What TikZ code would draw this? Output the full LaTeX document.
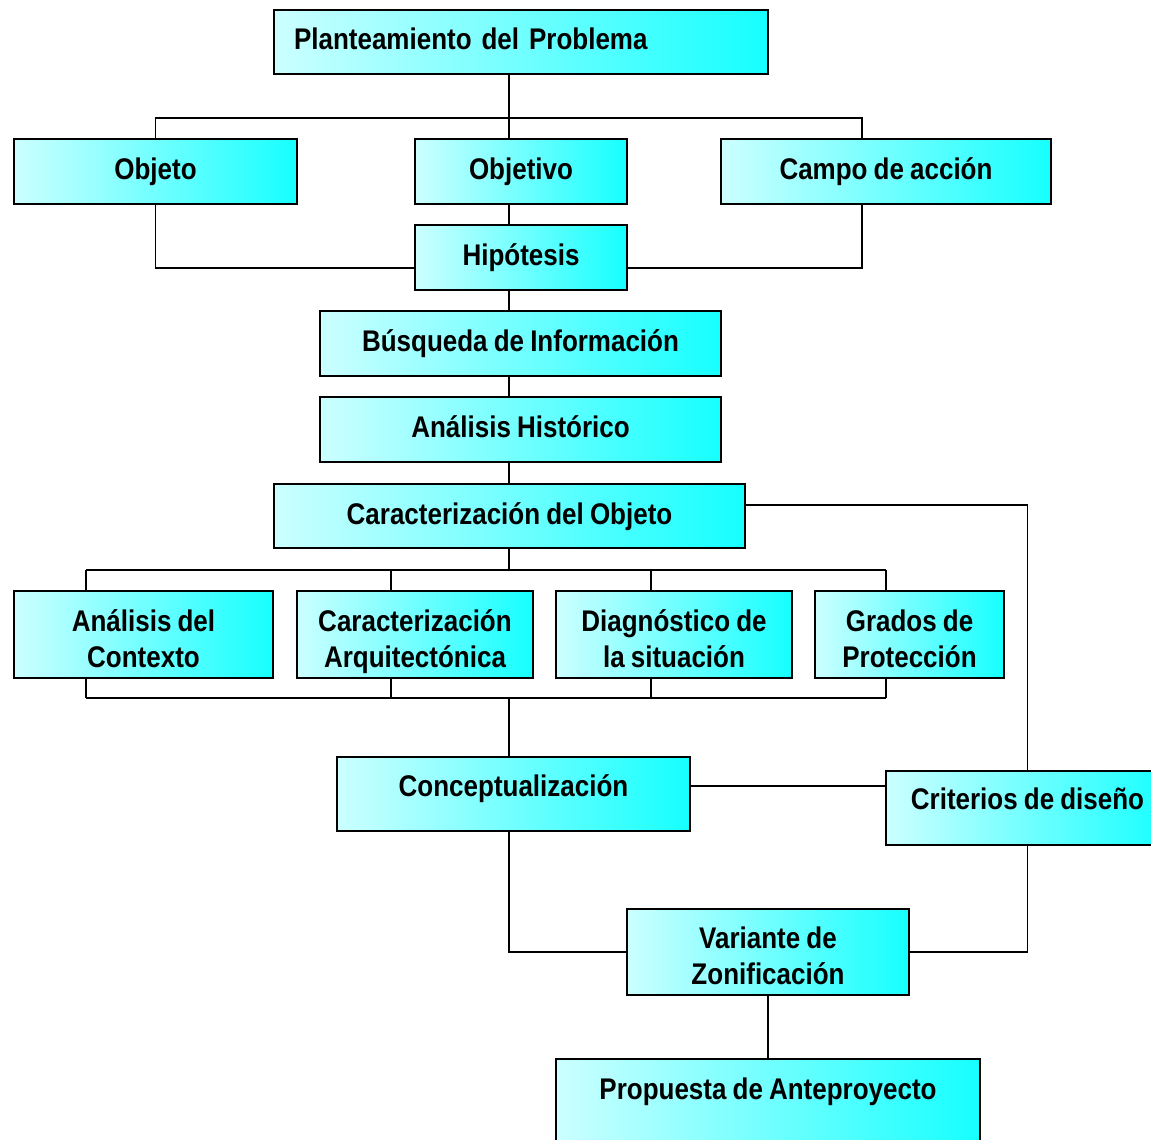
\documentclass[tikz,border=0pt]{standalone}
\usepackage{fontspec}
\setmainfont{Liberation Sans}[FakeStretch=0.87, WordSpace=0.85]
\definecolor{cyanlight}{RGB}{204,255,255}
\definecolor{cyandeep}{RGB}{22,255,255}

\begin{document}
\begin{tikzpicture}[x=0.02cm,y=-0.02cm,
  box/.style={draw=black, line width=1.1pt, left color=cyanlight, right color=cyandeep,
    inner sep=0pt, align=center, font=\bfseries\fontsize{17}{20.5}\selectfont},
  oneline/.style={text height=12.5pt, text depth=3.4pt},
  twoline/.style={text height=37pt, text depth=0pt},
  link/.style={draw=black, line width=1.1pt}]

  % Frame
  \useasboundingbox (0,0) rectangle (1151,1139);
  \clip (0,0) rectangle (1151,1139);

%%%%%%%%%%%%%%%%%%%%%%%%%%%%%%%%%%%%%%%%%%
  % Top of the chart
  \node[box, oneline, minimum width=9.88cm, minimum height=1.28cm, text width=9.08cm, align=left]
    (plan) at (521,42) {Planteamiento del Problema};
  \node[box, oneline, minimum width=5.66cm, minimum height=1.3cm] (obj) at (155.5,171.5) {Objeto};
  \node[box, oneline, minimum width=4.24cm, minimum height=1.3cm] (objv) at (521,171.5) {Objetivo};
  \node[box, oneline, minimum width=6.6cm, minimum height=1.3cm] (campo) at (886,171.5) {Campo de acción};
  \node[box, oneline, minimum width=4.24cm, minimum height=1.3cm] (hip) at (521,257.5) {Hipótesis};
  \node[box, oneline, minimum width=8.02cm, minimum height=1.3cm] (busq) at (520.5,343.5) {Búsqueda de Información};
  \node[box, oneline, minimum width=8.02cm, minimum height=1.3cm] (hist) at (520.5,429.5) {Análisis Histórico};
  \node[box, oneline, minimum width=9.42cm, minimum height=1.28cm] (carobj) at (509.5,516) {Caracterización del Objeto};

  % Four studies
  \node[box, twoline, minimum width=5.18cm, minimum height=1.74cm] (ctx) at (143.5,634.5) {Análisis del\\Contexto};
  \node[box, twoline, minimum width=4.72cm, minimum height=1.74cm] (arq) at (415,634.5) {Caracterización\\Arquitectónica};
  \node[box, twoline, minimum width=4.72cm, minimum height=1.74cm] (diag) at (674,634.5) {Diagnóstico de\\la situación};
  \node[box, twoline, minimum width=3.78cm, minimum height=1.74cm] (grad) at (909.5,634.5) {Grados de\\Protección};

  % Bottom of the chart
  \node[box, text height=12.5pt, text depth=9.4pt, minimum width=7.06cm, minimum height=1.48cm]
    (conc) at (513.5,794) {Conceptualización};
  \node[box, text height=12.5pt, text depth=10.6pt, minimum width=5.66cm, minimum height=1.48cm]
    (crit) at (1027.5,808) {Criterios de diseño};
  \node[box, twoline, minimum width=5.64cm, minimum height=1.72cm] (var) at (768,952) {Variante de\\Zonificación};
  \node[box, text height=12.5pt, text depth=23pt, minimum width=8.48cm, minimum height=2cm]
    (prop) at (768,1109) {Propuesta de Anteproyecto};

%%%%%%%%%%%%%%%%%%%%%%%%%%%%%%%%%%%%%%%%%%
  % Connectors
  \coordinate (trunk) at (509,118);
  \coordinate (busA) at (156,118);
  \coordinate (busB) at (862,118);
  \coordinate (busC) at (86,570);
  \coordinate (busD) at (886,570);
  \coordinate (busE) at (86,698);
  \coordinate (busF) at (886,698);

  \draw[link] (plan.south -| trunk) -- (objv.north -| trunk);
  \draw[link] (obj.north) |- (busB) -- (busB |- campo.north);
  \draw[link] (objv.south -| trunk) -- (hip.north -| trunk);
  \draw[link] (obj.south) |- ([yshift=-0.21cm]hip.west);
  \draw[link] (campo.south -| busB) |- ([yshift=-0.21cm]hip.east);
  \draw[link] (hip.south -| trunk) -- (busq.north -| trunk);
  \draw[link] (busq.south -| trunk) -- (hist.north -| trunk);
  \draw[link] (hist.south -| trunk) -- (carobj.north -| trunk);

  \draw[link] (carobj.south -| trunk) -- (trunk |- busC);
  \draw[link] (busC) -- (busD);
  \draw[link] (busE) -- (busF);
  \foreach \x/\n in {86/ctx,391/arq,651/diag,886/grad} {
    \draw[link] (\x,570 |- \n.north) -- (\x,570);
    \draw[link] (\x,698 |- \n.south) -- (\x,698);
  }
  \draw[link] (trunk |- busE) -- (conc.north -| trunk);

  \draw[link] ([yshift=0.22cm]carobj.east) -| (crit.north);
  \draw[link] ([yshift=0.16cm]conc.east) -- ([yshift=0.16cm]conc.east -| crit.west);
  \draw[link] (conc.south -| trunk) |- (var.west);
  \draw[link] (crit.south) |- (var.east);
  \draw[link] (var.south) -- (prop.north);

\end{tikzpicture}
\end{document}
